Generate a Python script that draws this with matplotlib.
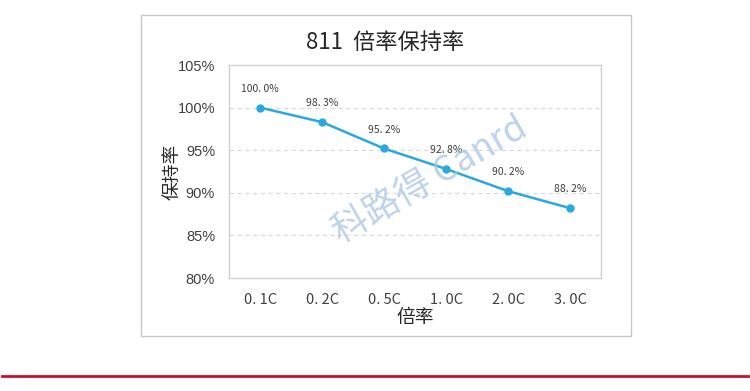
import matplotlib
matplotlib.use("Agg")
import matplotlib.pyplot as plt
from matplotlib.patches import Rectangle
from matplotlib.lines import Line2D

plt.rcParams['font.family'] = ['Noto Sans CJK SC', 'DejaVu Sans']

categories = ["0. 1C", "0. 2C", "0. 5C", "1. 0C", "2. 0C", "3. 0C"]
retention = [100.0, 98.3, 95.2, 92.8, 90.2, 88.2]
value_labels = ["100. 0%", "98. 3%", "95. 2%", "92. 8%", "90. 2%", "88. 2%"]
yticks = [80, 85, 90, 95, 100, 105]
ytick_labels = ["80%", "85%", "90%", "95%", "100%", "105%"]

fig = plt.figure(figsize=(7.5, 3.91), dpi=100)
fig.patch.set_facecolor("white")

# outer chart box
fig.patches.append(Rectangle((141/750, 1-336/391), (631-141)/750, (336-15)/391,
                             transform=fig.transFigure, fill=False,
                             edgecolor="#c8c8cc", linewidth=1.0))
# bottom red rule
fig.lines.append(Line2D([0.003, 0.997], [1-375.5/391, 1-375.5/391],
                        transform=fig.transFigure, color="#c8102e", linewidth=2.0))

ax = fig.add_axes([229/750, 1-278/391, (601-229)/750, (278-65)/391])
x = list(range(len(categories)))
ax.plot(x, retention, color="#2aa8e0", linewidth=1.8, marker="o", markersize=5, zorder=3)
for xi, v, lab in zip(x, retention, value_labels):
    ax.annotate(lab, (xi, v), xytext=(0, 10), textcoords="offset points",
                ha="center", va="bottom", fontsize=7.5, color="#404040")

ax.set_xlim(-0.5, len(categories) - 0.5)
ax.set_ylim(80, 105)
ax.set_yticks(yticks)
ax.set_yticklabels(ytick_labels, family=["Liberation Sans", "DejaVu Sans"])
ax.set_xticks(x)
ax.set_xticklabels(categories)
ax.tick_params(axis="both", length=0, labelsize=10.5, colors="#404040")
ax.tick_params(axis="x", pad=11)
ax.tick_params(axis="y", pad=10)
for yv in [85, 90, 95, 100]:
    ax.axhline(yv, color="#d9d9d9", linewidth=0.8, linestyle=(0, (4, 3)), zorder=1)
for s in ax.spines.values():
    s.set_color("#d0d0d4")
    s.set_linewidth(1.0)

ax.set_xlabel("倍率", fontsize=13.5, color="#262626", labelpad=0)
ax.set_ylabel("保持率", fontsize=13.5, color="#262626", va="center")
ax.yaxis.set_label_coords((172 - 229) / 372, 0.5)

fig.text(385/750, 1-42/391, "811  倍率保持率", ha="center", va="center",
         fontsize=16, color="#262626")

# watermark
fig.text(430/750, 1-180/391, "科路得 Canrd", ha="center", va="center",
         fontsize=26, color="#a8c4e4", alpha=0.75, rotation=30)

fig.savefig("out.png", dpi=100)
